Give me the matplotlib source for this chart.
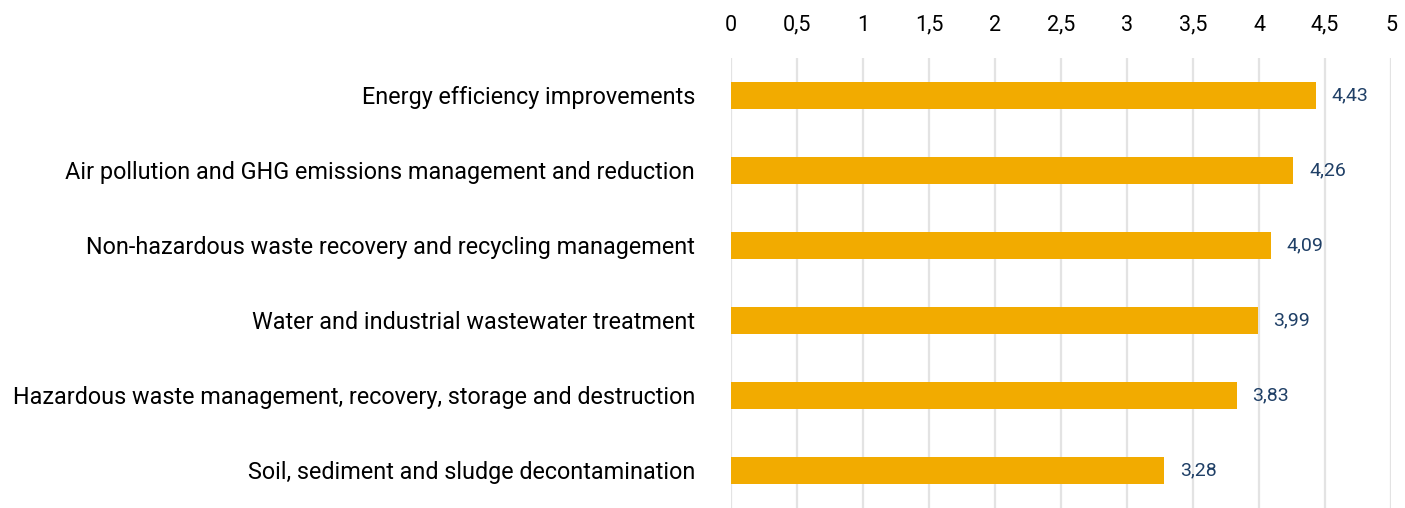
import matplotlib
matplotlib.use("Agg")
import matplotlib.pyplot as plt

categories = [
    "Energy efficiency improvements",
    "Air pollution and GHG emissions management and reduction",
    "Non-hazardous waste recovery and recycling management",
    "Water and industrial wastewater treatment",
    "Hazardous waste management, recovery, storage and destruction",
    "Soil, sediment and sludge decontamination",
]
values = [4.43, 4.26, 4.09, 3.99, 3.83, 3.28]
ticks = [0, 0.5, 1, 1.5, 2, 2.5, 3, 3.5, 4, 4.5, 5]

plt.rcParams['font.family'] = ['Roboto', 'DejaVu Sans']

fig = plt.figure(figsize=(14.05, 5.08), dpi=100)
ax = fig.add_axes([731 / 1405, 0.0, (1391 - 731) / 1405, 0.886])

pos = list(range(len(categories)))
ax.barh(pos, values, height=0.35, color="#F2AB00", zorder=3)

for p, v in zip(pos, values):
    ax.text(v + 0.12, p, ("%.2f" % v).replace(".", ","), va="center", ha="left",
            fontsize=14, color="#1F3F66")

ax.set_xlim(0, 5)
ax.set_ylim(len(categories) - 0.5, -0.5)
ax.set_xticks(ticks)
ax.set_xticklabels([("%g" % t).replace(".", ",") for t in ticks])
ax.xaxis.tick_top()
ax.tick_params(axis="x", length=0, pad=16, labelsize=15.5, labelcolor="black")
ax.set_yticks(pos)
ax.set_yticklabels(categories)
ax.tick_params(axis="y", length=0, pad=26, labelsize=16.8, labelcolor="black")

ax.grid(axis="x", color="#E3E3E3", linewidth=1.6, zorder=0)
for s in ax.spines.values():
    s.set_visible(False)

fig.savefig("out.png", dpi=100)
